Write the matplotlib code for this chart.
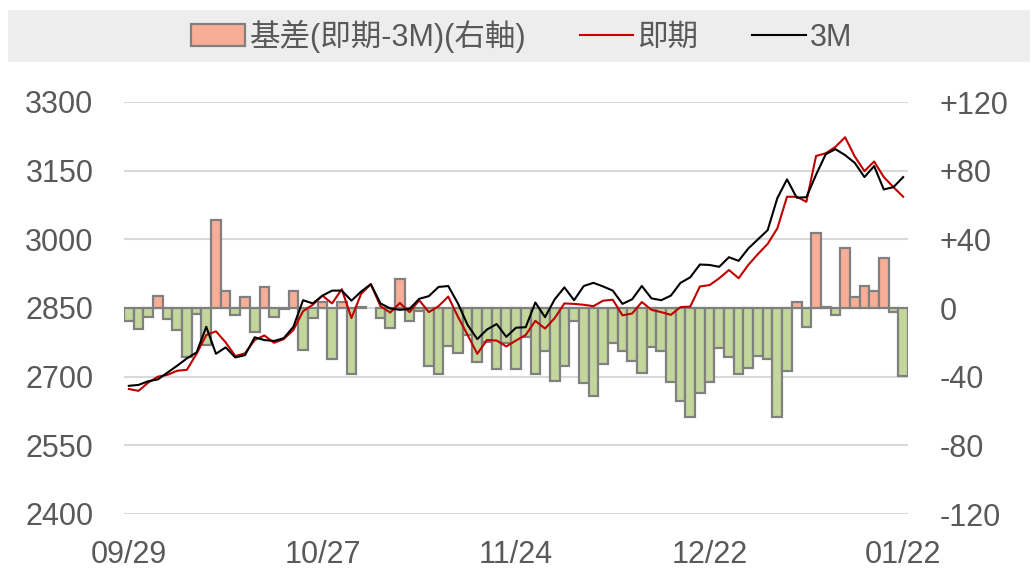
import numpy as np
import pandas as pd
import matplotlib
matplotlib.use("Agg")
import matplotlib.pyplot as plt
from matplotlib.patches import Patch, Rectangle
from matplotlib.lines import Line2D
from matplotlib.ticker import FuncFormatter

plt.rcParams['font.family'] = ['Liberation Sans', 'Noto Sans CJK TC']

# trading days (LME: no 12/25, 12/26, 01/01)
days = pd.bdate_range('2025-09-29', '2026-01-22')
days = days.drop(pd.to_datetime(['2025-12-25', '2025-12-26', '2026-01-01']))
labels = [d.strftime('%m/%d') for d in days]
tick_labels = ['09/29', '10/27', '11/24', '12/22', '01/22']

# 即期 (cash)
spot = [2673, 2669, 2687, 2700, 2704, 2713, 2715, 2750, 2791, 2799,
        2775, 2745, 2751, 2780, 2790, 2774, 2782, 2802, 2843, 2857,
        2877, 2860, 2891, 2828, 2881, 2902, 2854, 2840, 2861, 2841,
        2867, 2841, 2854, 2875, 2831, 2791, 2750, 2780, 2779, 2766,
        2779, 2791, 2822, 2805, 2828, 2860, 2859, 2857, 2854, 2866,
        2868, 2834, 2838, 2863, 2846, 2841, 2835, 2852, 2853, 2897,
        2900, 2915, 2933, 2915, 2944, 2968, 2990, 3024, 3093, 3093,
        3082, 3182, 3188, 3202, 3223, 3181, 3149, 3170, 3136, 3114,
        3093]

# 3M
three_m = [2680, 2682, 2690, 2694, 2709, 2724, 2740, 2753, 2809, 2750,
           2764, 2742, 2747, 2786, 2780, 2778, 2784, 2809, 2867, 2860,
           2877, 2888, 2888, 2866, 2886, 2902, 2860, 2849, 2846, 2848,
           2870, 2876, 2896, 2898, 2860, 2813, 2782, 2803, 2815, 2787,
           2807, 2808, 2862, 2830, 2869, 2895, 2867, 2898, 2905, 2897,
           2888, 2859, 2869, 2898, 2871, 2867, 2877, 2905, 2917, 2945,
           2944, 2940, 2961, 2953, 2980, 3000, 3020, 3090, 3131, 3091,
           3092, 3141, 3186, 3197, 3184, 3167, 3136, 3160, 3109, 3114,
           3136]

# 基差 (即期-3M), right axis
basis = [-7.5, -12.4, -5.3, 7, -6.6, -12.8, -28.4, -3.3, -21.5, 51,
         10, -4, 6.2, -13.8, 12, -5.4, -0.8, 10, -24.5, -6,
         3.7, -29.9, 3.7, -38.4, 0.3, np.nan, -6, -11.9, 16.7, -7.6,
         -2, -34, -38.6, -22, -26, -15.7, -31.2, -19.6, -35.5, -20.6,
         -35.5, -17, -38.6, -24.8, -42.5, -33.8, -7.4, -43.9, -51, -32.6,
         -20.2, -24.8, -30.7, -37.7, -22.9, -25, -43.3, -54.2, -63.7, -49.3,
         -43.3, -23.1, -28.7, -38.6, -35.1, -27.8, -29.7, -63.3, -36.5, 3.3,
         -10.9, 43.5, 0.5, -4.1, 34.8, 6.2, 12.8, 9.9, 29.3, -2.5,
         -39.4]

text_color = '#595959'
pos_color = '#F8AE96'
neg_color = '#C3D69B'
edge_color = '#808080'

x = np.arange(len(labels))
basis = np.array(basis, dtype=float)

fig = plt.figure(figsize=(10.36, 5.69), dpi=100)
fig.patches.append(Rectangle((8 / 1036, 1 - 62 / 569), 1022 / 1036, 52 / 569,
                             transform=fig.transFigure, facecolor='#EDEDED',
                             edgecolor='none', zorder=0))

ax = fig.add_axes([124 / 1036, 1 - 514 / 569, 784 / 1036, 412 / 569])
ax2 = ax.twinx()

bar_colors = [pos_color if v > 0 else neg_color for v in np.nan_to_num(basis)]
ax2.bar(x, basis, width=1.0, color=bar_colors, edgecolor=edge_color, linewidth=1.6)
ax2.set_ylim(-120, 120)
ax2.set_yticks(np.arange(-120, 121, 40))
ax2.yaxis.set_major_formatter(FuncFormatter(lambda v, p: f'+{v:.0f}' if v > 0 else f'{v:.0f}'))
ax2.grid(axis='y', color='#D9D9D9', linewidth=1.5)
ax2.set_axisbelow(True)

ax.plot(x, spot, color='#C00000', linewidth=1.5)
ax.plot(x, three_m, color='black', linewidth=1.5)
ax.set_ylim(2400, 3300)
ax.set_yticks(np.arange(2400, 3301, 150))
ax.set_xlim(-0.5, len(labels) - 0.5)
ax.set_xticks([labels.index(t) for t in tick_labels])
ax.set_xticklabels(tick_labels)

ax.set_zorder(ax2.get_zorder() + 1)
ax.patch.set_visible(False)

for a in (ax, ax2):
    for s in a.spines.values():
        s.set_visible(False)
    a.tick_params(length=0, labelsize=22, labelcolor=text_color)
ax.tick_params(axis='y', pad=22)
ax2.tick_params(axis='y', pad=23)
ax.tick_params(axis='x', pad=19)

handles = [Patch(facecolor=pos_color, edgecolor=edge_color, linewidth=1.6),
           Line2D([], [], color='#C00000', linewidth=1.5),
           Line2D([], [], color='black', linewidth=1.5)]
fig.legend(handles, ['基差(即期-3M)(右軸)', '即期', '3M'], loc='center',
           bbox_to_anchor=(522 / 1036, 1 - 36 / 569), ncol=3, frameon=False,
           fontsize=22, labelcolor=text_color, handlelength=1.75,
           handletextpad=0.15, columnspacing=1.75, borderaxespad=0)

fig.savefig('out.png', dpi=100)
